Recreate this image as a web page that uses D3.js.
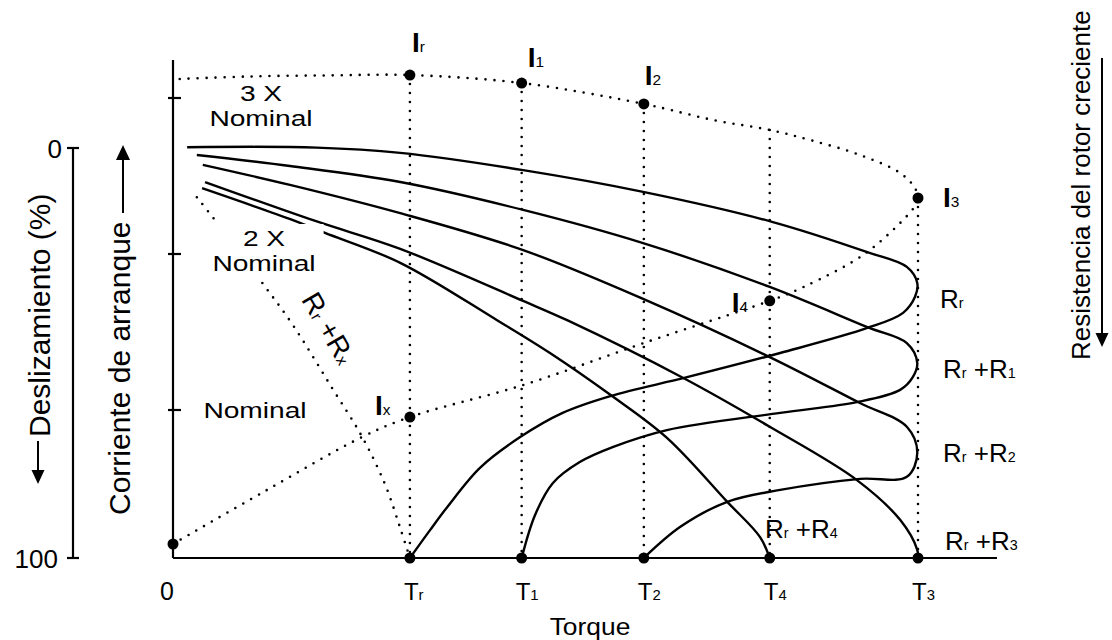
<!DOCTYPE html>
<html><head><meta charset="utf-8">
<script src="https://cdn.jsdelivr.net/npm/d3@7"></script>
<style>body{margin:0;background:#fff}svg{display:block}</style>
</head><body>
<svg id="c" width="1112" height="640"></svg>
<script>
// ---------------- DATA ----------------
// Torque values (T3 = 100) and their subscripts
const torqueSubs = ["r", "1", "2", "4", "3"];
const torqueValues = [31.8, 46.8, 63.2, 80.1, 100];
// top of the dotted drop line at each torque (current, x nominal)
const dropTops = [3.147, 3.096, 2.962, 2.795, 2.359];

// Current axis ticks (multiples of nominal) and labels
const currentTicks = [1, 2, 3];
const currentTickLines = [["Nominal"], ["2 X", "Nominal"], ["3 X", "Nominal"]];

// Slip axis ticks (%)
const slipTicks = [0, 100];
const slipTickLabels = ["0", "100"];

// Current points: subscript, torque, current
const currentSubs = ["r", "1", "2", "3", "4", "x"];
const currentTorque = [31.8, 46.8, 63.2, 100, 80.1, 31.8];
const currentValues = [3.147, 3.096, 2.962, 2.359, 1.70, 0.955];
const originCurrent = 0.141;

// Dotted current curve through I_r, I1, I2 ... I3  [torque, current]
const currentTopCurve = [[0.9, 3.122], [10.3, 3.138], [21.1, 3.145], [31.8, 3.147], [46.8, 3.096],
  [63.2, 2.962], [72.5, 2.859], [80.1, 2.795], [85.5, 2.731], [92.2, 2.635], [97.6, 2.519],
  [99.6, 2.423], [100, 2.359]];
// Dotted starting-current curve through Ix, I4, I3  [torque, current]
const currentStartCurve = [[0, 0.141], [12.6, 0.487], [25.4, 0.827], [31.8, 0.955], [47.0, 1.160],
  [63.6, 1.436], [80.1, 1.70], [84.6, 1.788], [93.2, 2.013], [99.9, 2.327], [100, 2.359]];
// Dotted Rr+Rx torque-slip curve  [torque, slip%]
const curveRx = [[3.2, 12.0], [7.7, 22.4], [11.7, 32.2], [16.1, 43.2], [21.1, 57.8], [25.4, 70.5],
  [28.5, 82.2], [30.5, 92.7], [31.8, 100]];

// Torque-slip curves  [torque, slip%]
const curveRr = [[1.9, -0.2], [19.3, -0.1], [30.5, 1.2], [47.0, 5.4], [63.1, 10.7], [80.4, 18.0],
  [93.2, 25.4], [98.5, 29.0], [99.9, 32.9], [99.6, 36.3], [98.0, 40.2], [93.2, 43.9], [81.5, 50.0],
  [69.0, 55.9], [58.7, 60.5], [52.3, 64.6], [46.6, 70.5], [41.2, 78.0], [36.8, 87.6], [34.5, 93.2],
  [31.8, 100]];
const curveRr1 = [[3.2, 1.7], [15.7, 4.4], [30.5, 8.3], [47.0, 15.1], [63.1, 23.2], [80.1, 33.9],
  [93.2, 43.7], [98.5, 47.6], [99.9, 52.4], [99.3, 55.9], [97.6, 59.0], [91.8, 62.0], [81.5, 64.6],
  [66.3, 68.8], [59.1, 72.9], [54.6, 76.6], [51.0, 81.7], [48.6, 89.5], [46.8, 100]];
const curveRr2 = [[4.0, 4.1], [15.7, 9.0], [30.5, 15.9], [47.0, 24.9], [63.1, 36.8], [80.1, 51.0],
  [92.2, 62.2], [98.5, 68.0], [99.9, 74.4], [98.5, 80.2], [92.2, 80.7], [81.5, 83.4], [74.4, 86.3],
  [68.1, 92.4], [63.2, 100]];
const curveRr3 = [[4.3, 8.3], [19.1, 17.8], [30.5, 24.6], [47.0, 37.3], [52.9, 42.0], [68.5, 56.1],
  [80.1, 68.0], [91.8, 81.0], [97.6, 90.7], [99.9, 98.0], [100, 100]];
const curveRr4 = [[3.9, 9.8], [16.1, 17.6], [20.4, 20.7], [30.5, 28.0], [43.5, 42.0], [50.6, 50.0],
  [58.7, 60.2], [66.3, 70.7], [74.4, 86.3], [78.8, 94.9], [80.1, 100]];

const rotorLabels = ["R_r", "R_r +R_1", "R_r +R_2", "R_r +R_3", "R_r +R_4"];

// ---------------- LAYOUT ----------------
const FONT = "'Liberation Sans', Arial, Helvetica, sans-serif";
const svg = d3.select("#c").attr("font-family", FONT);
const x = d3.scaleLinear().domain([0, 100]).range([173, 918]);
const ySlip = d3.scaleLinear().domain([0, 100]).range([148, 558]);
const yCur = d3.scaleLinear().domain([1, 3]).range([410, 98]);
const torqueAxisEnd = 110.6, currentAxisTop = 3.244;
const slipAxisX = 73;

const lineS = d3.line().x(d => x(d[0])).y(d => ySlip(d[1])).curve(d3.curveCatmullRom.alpha(0.5));
const lineC = d3.line().x(d => x(d[0])).y(d => yCur(d[1])).curve(d3.curveCatmullRom.alpha(0.5));

function dotted(sel) {
  return sel.attr("fill", "none").attr("stroke", "#000").attr("stroke-width", 2.6)
    .attr("stroke-linecap", "round").attr("stroke-dasharray", "0 9");
}
function rich(sel, str, size, subScale = 0.62, mainWeight = "normal") {
  const re = /_(.)|([^_]+)/g; let m;
  while ((m = re.exec(str))) {
    if (m[1]) sel.append("tspan").attr("font-size", size * subScale).text(m[1]);
    else sel.append("tspan").attr("font-size", size).attr("font-weight", mainWeight).text(m[2]);
  }
  return sel;
}
function arrowDown(g, ax, y1, tip, hw, hl) {
  g.append("line").attr("x1", ax).attr("x2", ax).attr("y1", y1).attr("y2", tip - hl + 1)
    .attr("stroke", "#000").attr("stroke-width", 2);
  g.append("path").attr("d", `M${ax - hw},${tip - hl}L${ax + hw},${tip - hl}L${ax},${tip}Z`).attr("fill", "#000");
}
function arrowUp(g, ax, y1, tip, hw, hl) {
  g.append("line").attr("x1", ax).attr("x2", ax).attr("y1", y1).attr("y2", tip + hl - 1)
    .attr("stroke", "#000").attr("stroke-width", 2);
  g.append("path").attr("d", `M${ax - hw},${tip + hl}L${ax + hw},${tip + hl}L${ax},${tip}Z`).attr("fill", "#000");
}

// Axes
const ax = svg.append("g").attr("stroke", "#000").attr("stroke-width", 2.2);
ax.append("line").attr("x1", x(0)).attr("x2", x(0)).attr("y1", yCur(currentAxisTop)).attr("y2", ySlip(100));
ax.append("line").attr("x1", x(0)).attr("x2", x(torqueAxisEnd)).attr("y1", ySlip(100)).attr("y2", ySlip(100));
currentTicks.forEach(t => ax.append("line").attr("x1", x(0) - 5).attr("x2", x(0) + 8)
  .attr("y1", yCur(t)).attr("y2", yCur(t)));
ax.append("line").attr("x1", slipAxisX).attr("x2", slipAxisX).attr("y1", ySlip(0)).attr("y2", ySlip(100));
slipTicks.forEach(t => ax.append("line").attr("x1", slipAxisX - 6).attr("x2", slipAxisX + 6)
  .attr("y1", ySlip(t)).attr("y2", ySlip(t)));

// Slip tick labels
const slipLabelRight = [62, 58];
slipTicks.forEach((t, i) => svg.append("text").attr("x", slipLabelRight[i]).attr("y", ySlip(t) + 10)
  .attr("text-anchor", "end").attr("font-size", 26).text(slipTickLabels[i]));
// Torque origin label
svg.append("text").attr("x", x(0) - 6).attr("y", 600).attr("text-anchor", "middle").attr("font-size", 25).text("0");

// Dotted lines
torqueValues.forEach((t, i) => dotted(svg.append("line")).attr("x1", x(t)).attr("x2", x(t))
  .attr("y1", yCur(dropTops[i])).attr("y2", ySlip(100)));
dotted(svg.append("path")).attr("d", lineC(currentTopCurve));
dotted(svg.append("path")).attr("d", lineC(currentStartCurve));
dotted(svg.append("path")).attr("d", lineS(curveRx));

// Solid torque-slip curves
[curveRr, curveRr1, curveRr2, curveRr3, curveRr4].forEach(c =>
  svg.append("path").attr("d", lineS(c)).attr("fill", "none").attr("stroke", "#000").attr("stroke-width", 2.4));

// Dots
currentTorque.forEach((t, i) => svg.append("circle").attr("cx", x(t)).attr("cy", yCur(currentValues[i])).attr("r", 5.5));
svg.append("circle").attr("cx", x(0)).attr("cy", yCur(originCurrent)).attr("r", 5.5);
torqueValues.forEach(t => svg.append("circle").attr("cx", x(t)).attr("cy", ySlip(100)).attr("r", 5.5));

// Current tick labels (Nominal, 2X, 3X)
const tickLabelLayout = [{cx: 255, dy: [8]}, {cx: 264, dy: [-8, 17]}, {cx: 261, dy: [3, 28]}];
currentTicks.forEach((t, i) => {
  const gl = svg.append("g");
  currentTickLines[i].forEach((s, j) => {
    gl.append("text").attr("transform", `translate(${tickLabelLayout[i].cx},${yCur(t) + tickLabelLayout[i].dy[j]}) scale(1.28,1)`)
      .attr("text-anchor", "middle").attr("font-size", 22).text(s);
  });
  if (i === 1) {
    const b = gl.node().getBBox();
    gl.insert("rect", ":first-child").attr("x", b.x - 8).attr("y", b.y - 2).attr("width", b.width + 16)
      .attr("height", b.height + 8).attr("fill", "#fff");
  }
});

// Current point labels
const currentLabelOffsets = [[2, -23], [6, -16], [1, -19], [25, 9], [-38, 11], [-35, -2]];
currentTorque.forEach((t, i) => {
  const tx = svg.append("text").attr("x", x(t) + currentLabelOffsets[i][0])
    .attr("y", yCur(currentValues[i]) + currentLabelOffsets[i][1]);
  rich(tx, "I_" + currentSubs[i], 28, 0.55, "bold");
});

// Torque labels
torqueValues.forEach((t, i) => {
  const tx = svg.append("text").attr("x", x(t) - 6).attr("y", 600);
  rich(tx, "T_" + torqueSubs[i], 24, 0.62);
});
svg.append("text").attr("transform", "translate(590,635) scale(1.1,1)").attr("text-anchor", "middle")
  .attr("font-size", 24).text("Torque");

// Rotor resistance labels
const rotorLabelPos = [[940, 308], [943, 378], [943, 462], [945, 550], [765, 538]];
rotorLabels.forEach((s, i) => {
  const tx = svg.append("text").attr("x", rotorLabelPos[i][0]).attr("y", rotorLabelPos[i][1]);
  rich(tx, s, 26, 0.55);
});
// Rr + Rx rotated label
rich(svg.append("text").attr("transform", "translate(320,333) rotate(60)").attr("text-anchor", "middle"),
  "R_r +R_x", 28, 0.55);

// Vertical titles
svg.append("text").attr("transform", "translate(50,437) rotate(-90)").attr("font-size", 30).text("Deslizamiento (%)");
arrowDown(svg, 38, 441, 484, 6.5, 14);
svg.append("text").attr("transform", "translate(130,515) rotate(-90)").attr("font-size", 30).text("Corriente de arranque");
arrowUp(svg, 123, 213, 145, 7, 15);
svg.append("text").attr("transform", "translate(1090,360) rotate(-90)").attr("font-size", 26).text("Resistencia del rotor creciente");
arrowDown(svg, 1102, 58, 347, 6.5, 14);
</script>
</body></html>
